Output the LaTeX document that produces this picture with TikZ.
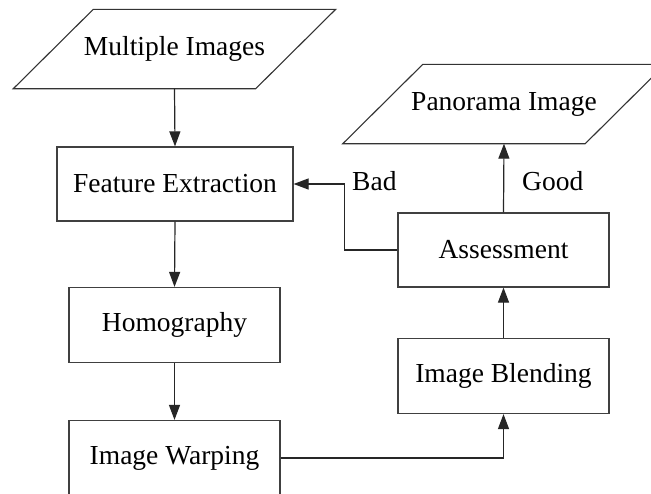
\documentclass[tikz,border=0pt]{standalone}
\usepackage{fontspec}
\setmainfont{Liberation Serif}
\newfontfamily\tnr{Liberation Serif}
\usetikzlibrary{arrows.meta}
\tikzset{
  txt/.style={font=\tnr\fontsize{27.5}{33}\selectfont},
  box/.style={txt, draw=black!75, line width=1.2pt, rectangle, inner sep=0pt},
  io/.style={txt, rectangle, inner sep=0pt, minimum width=242pt, minimum height=79pt},
  para/.style={draw=black!80, line width=1.1pt},
  conn/.style={draw=black!85, line width=1.2pt, -{Triangle[length=15pt,width=11pt]}},
  lbl/.style={txt, inner sep=0pt, anchor=base west}
}
\begin{document}
\begin{tikzpicture}[x=1pt,y=-1pt]
\useasboundingbox (0,0) rectangle (651,493);
\clip (0,0) rectangle (651,493);
\fill[white] (0,0) rectangle (651,493);
% input / output parallelograms
\node[io] (mi) at (174.5,49) {Multiple Images};
\draw[para] ([xshift=-40pt]mi.south west) -- ([xshift=-40pt]mi.south east) -- ([xshift=40pt]mi.north east) -- ([xshift=40pt]mi.north west) -- cycle;
\node[io] (pi) at (504,104) {Panorama Image};
\draw[para] ([xshift=-40pt]pi.south west) -- ([xshift=-40pt]pi.south east) -- ([xshift=40pt]pi.north east) -- ([xshift=40pt]pi.north west) -- cycle;
% process boxes
\node[box, minimum width=236pt, minimum height=74pt] (fe) at (175,184) {Feature Extraction};
\node[box, minimum width=211pt, minimum height=75pt] (ho) at (174.5,325) {Homography};
\node[box, minimum width=211pt, minimum height=75pt] (iw) at (174.5,458) {Image Warping};
\node[box, minimum width=211pt, minimum height=74pt] (as) at (503.5,250) {Assessment};
\node[box, minimum width=211pt, minimum height=75pt] (ib) at (503.5,376) {Image Blending};
% labels
\node[lbl] (bad) at (352,190) {Bad};
\node[lbl] (good) at (522,190) {Good};
% connectors
\draw[conn] (mi.south) -- (fe.north);
\draw[conn] (fe.south) -- (ho.north);
\draw[conn] (ho.south) -- (iw.north);
\draw[conn] (iw.east) -| (ib.south);
\draw[conn] (ib.north) -- (as.south);
\draw[conn] (as.north) -- (pi.south);
\draw[conn] (as.west) -- ++(-53,0) |- (fe.east);
\end{tikzpicture}
\end{document}
